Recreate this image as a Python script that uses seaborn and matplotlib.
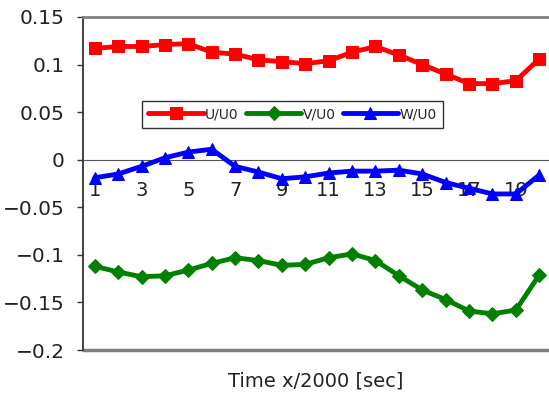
import numpy as np
import pandas as pd
import matplotlib
matplotlib.use("Agg")
import matplotlib.pyplot as plt
import seaborn as sns

time_steps = list(range(1, 21))
u_u0 = [0.117, 0.119, 0.119, 0.121, 0.122, 0.113, 0.111, 0.105, 0.103, 0.101,
        0.104, 0.113, 0.119, 0.110, 0.100, 0.090, 0.080, 0.080, 0.083, 0.106]
v_u0 = [-0.112, -0.118, -0.123, -0.122, -0.116, -0.109, -0.103, -0.106, -0.111, -0.110,
        -0.103, -0.099, -0.106, -0.122, -0.137, -0.147, -0.159, -0.162, -0.158, -0.121]
w_u0 = [-0.019, -0.015, -0.007, 0.002, 0.008, 0.011, -0.007, -0.013, -0.020, -0.018,
        -0.014, -0.012, -0.012, -0.011, -0.015, -0.024, -0.030, -0.036, -0.036, -0.016]
series_names = ["U/U0", "V/U0", "W/U0"]
y_ticks = [-0.2, -0.15, -0.1, -0.05, 0, 0.05, 0.1, 0.15]
y_labels = ["\u22120.2", "\u22120.15", "\u22120.1", "\u22120.05", "0", "0.05", "0.1", "0.15"]
x_labels = [str(t) for t in time_steps[::2]]

df = pd.DataFrame({"t": time_steps, "U/U0": u_u0, "V/U0": v_u0, "W/U0": w_u0})

sns.set_style("white")
plt.rcParams["font.family"] = ["DejaVu Sans"]

fig = plt.figure(figsize=(5.49, 3.94), dpi=100)
ax = fig.add_axes([83 / 549, 1 - 350 / 394, 468 / 549, 333 / 394])

styles = {
    "U/U0": dict(color="#ff0000", marker="s", markersize=8),
    "V/U0": dict(color="#008000", marker="D", markersize=7),
    "W/U0": dict(color="#0000ff", marker="^", markersize=9),
}
for name in series_names:
    st = styles[name]
    sns.lineplot(data=df, x="t", y=name, ax=ax, color=st["color"], marker=st["marker"],
                 markersize=st["markersize"], markeredgecolor=st["color"],
                 linewidth=3.5, label=name, clip_on=False, zorder=3)

ax.set_xlim(0.5, 20.5)
ax.set_ylim(-0.2, 0.15)
ax.set_yticks(y_ticks)
ax.set_yticklabels(y_labels)

# category boundaries as tick marks, labels at odd centers
ax.set_xticks(np.arange(1.5, 20.5, 1.0))
ax.set_xticklabels([])
ax.set_xticks(time_steps[::2], minor=True)
ax.set_xticklabels(x_labels, minor=True)
ax.tick_params(axis="x", which="major", direction="in", length=5, width=1, color="#222222")
ax.tick_params(axis="x", which="minor", length=0, pad=15, labelsize=14, labelcolor="#222222")
ax.tick_params(axis="y", direction="out", length=4, width=1, color="#333333", left=True,
               pad=9, labelsize=14.5, labelcolor="#222222")

ax.spines["bottom"].set_position(("data", 0))
ax.spines["bottom"].set_color("#555555")
ax.spines["left"].set_color("#333333")
ax.spines["left"].set_linewidth(1.3)
ax.spines["top"].set_color("#808080")
ax.spines["top"].set_linewidth(2)
ax.spines["right"].set_visible(False)
ax.axhline(-0.2, color="#808080", linewidth=2.5, clip_on=False, zorder=1)

ax.set_xlabel("")
ax.set_ylabel("")
fig.text(316 / 549, 1 - 381 / 394, "Time x/2000 [sec]", ha="center", va="center",
         fontsize=14, color="#222222")

leg = ax.legend(loc="upper left", bbox_to_anchor=((142 - 83) / 468, (350 - 101) / 333),
                ncol=3, frameon=True, fancybox=False, fontsize=10, handlelength=4.0,
                handletextpad=0.1, columnspacing=0.5, borderpad=0.45, borderaxespad=0)
leg.get_frame().set_edgecolor("black")
leg.get_frame().set_linewidth(1)

fig.savefig("out.png", dpi=100)
